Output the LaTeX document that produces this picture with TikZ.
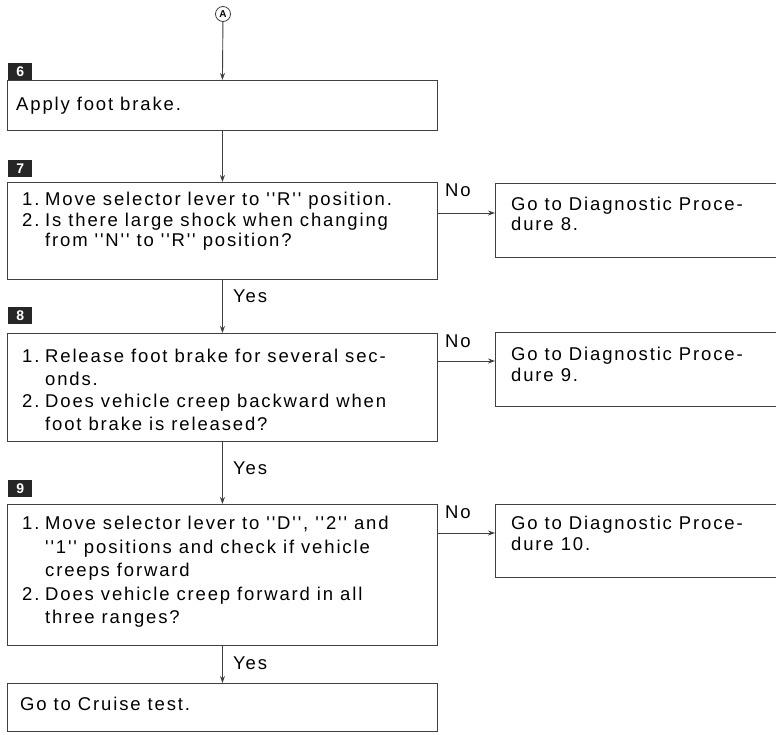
\documentclass[tikz,border=0pt]{standalone}
\usepackage{fontspec}
\setmainfont{Liberation Sans}
\newfontfamily\diagfont[LetterSpace=10]{Liberation Sans}
\usetikzlibrary{arrows.meta}
\begin{document}
\begin{tikzpicture}[x=1pt,y=-1pt,
  line/.style={draw=black!75, line width=0.9pt},
  box/.style={line, rectangle, anchor=north west, inner sep=0pt, minimum width=430pt},
  rbox/.style={line, rectangle, anchor=north west, inner sep=0pt, minimum width=290pt},
  txt/.style={anchor=north west, inner sep=0pt, align=left, font=\diagfont\fontsize{18.5}{#1}\selectfont},
  txt/.default=21,
  arr/.style={line, -{Stealth[length=7pt,width=5pt]}},
  lbl/.style={font=\diagfont\fontsize{18.5}{20}\selectfont, inner sep=0pt, anchor=base west},
  num/.style={fill=black!85, text=white, font=\bfseries\fontsize{14}{14}\selectfont, minimum width=24pt, minimum height=17pt, inner sep=0pt, anchor=north west},
]
\useasboundingbox (0,0) rectangle (776,734);

% start connector
\node[circle, draw=black!75, line width=0.8pt, minimum size=15pt, inner sep=0pt, font=\bfseries\fontsize{10}{10}\selectfont] (A) at (223,14) {A};

% step numbers
\node[num] (n6) at (8,63) {6};
\node[num] (n7) at (8,160) {7};
\node[num] (n8) at (8,307) {8};
\node[num] (n9) at (8,480) {9};

% main boxes
\node[box, minimum height=50pt] (b6) at (7,80) {};
\node[box, minimum height=97pt] (b7) at (7,182) {};
\node[box, minimum height=108pt] (b8) at (7,333) {};
\node[box, minimum height=141pt] (b9) at (7,504) {};
\node[box, minimum height=48pt] (bE) at (7,683) {};

% right boxes
\node[rbox, minimum height=74pt] (r8) at (495,183) {};
\node[rbox, minimum height=74pt] (r9) at (495,332) {};
\node[rbox, minimum height=73pt] (r10) at (495,504) {};

% texts
\node[txt] (t6) at (16,97) {Apply foot brake.};
\node[txt=20.5] (t7) at (22,192) {\makebox[23pt][l]{1.}Move selector lever to ''R'' position.\\
\makebox[23pt][l]{2.}Is there large shock when changing\\
\hspace*{23pt}from ''N'' to ''R'' position?};
\node[txt=22.5] (t8) at (22,349) {\makebox[23pt][l]{1.}Release foot brake for several sec-\\
\hspace*{23pt}onds.\\
\makebox[23pt][l]{2.}Does vehicle creep backward when\\
\hspace*{23pt}foot brake is released?};
\node[txt=23.5] (t9) at (22,516) {\makebox[23pt][l]{1.}Move selector lever to ''D'', ''2'' and\\
\hspace*{23pt}''1'' positions and check if vehicle\\
\hspace*{23pt}creeps forward\\
\makebox[23pt][l]{2.}Does vehicle creep forward in all\\
\hspace*{23pt}three ranges?};
\node[txt] (tE) at (20,697) {Go to Cruise test.};

\node[txt=20] (u8) at (511,197) {Go to Diagnostic Proce-\\dure 8.};
\node[txt=21] (u9) at (511,347) {Go to Diagnostic Proce-\\dure 9.};
\node[txt=21] (u10) at (511,516) {Go to Diagnostic Proce-\\dure 10.};

% connectors
\draw[arr] (A) -- (b6.north);
\draw[arr] (b6.south) -- (b7.north);
\draw[arr] (b7.south) -- (b8.north);
\draw[arr] (b8.south) -- (b9.north);
\draw[arr] (b9.south) -- (bE.north);

\coordinate (y7) at (0,213);
\coordinate (y8) at (0,361);
\coordinate (y9) at (0,533);
\draw[arr] (b7.east |- y7) -- (r8.west |- y7);
\draw[arr] (b8.east |- y8) -- (r9.west |- y8);
\draw[arr] (b9.east |- y9) -- (r10.west |- y9);

% labels
\node[lbl] (no7) at (445,196) {No};
\node[lbl] (no8) at (445,347) {No};
\node[lbl] (no9) at (445,518) {No};
\node[lbl] (yes7) at (233,302) {Yes};
\node[lbl] (yes8) at (233,474) {Yes};
\node[lbl] (yes9) at (233,669) {Yes};
\end{tikzpicture}
\end{document}
